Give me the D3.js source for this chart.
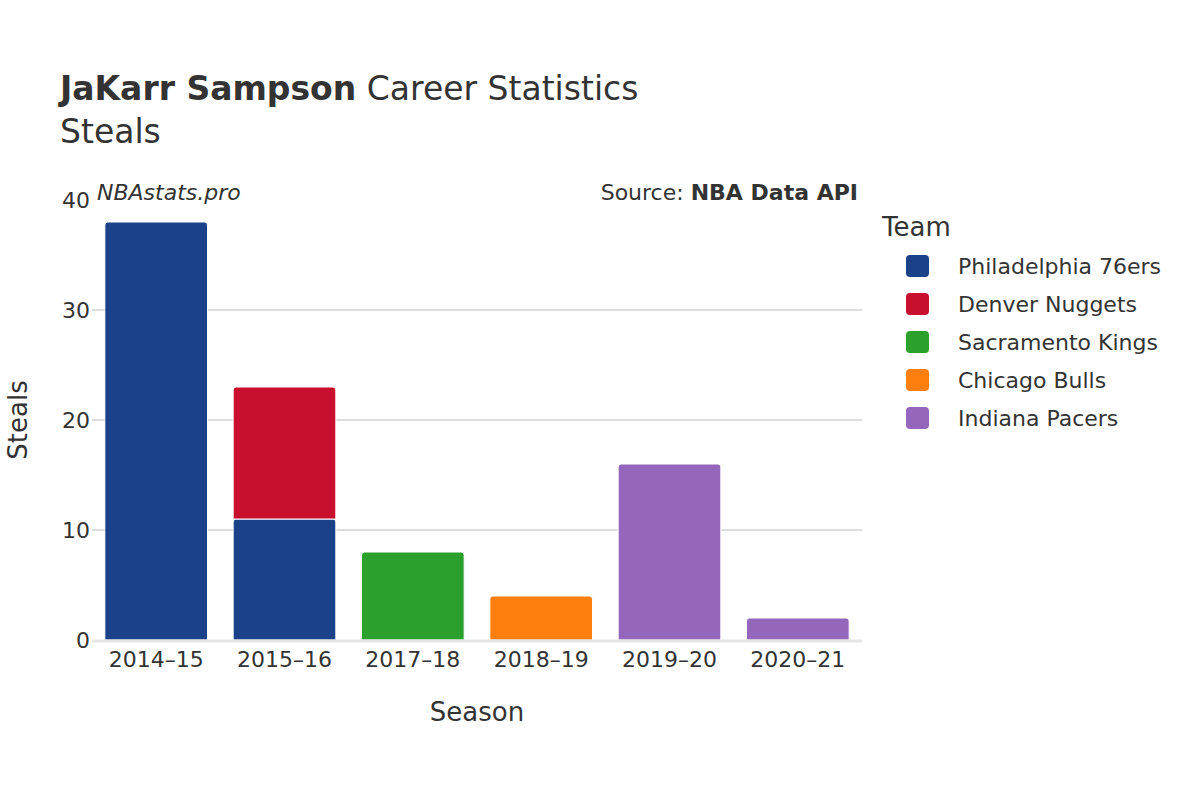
<!DOCTYPE html><html><head><meta charset="utf-8"><script src="https://cdn.jsdelivr.net/npm/d3@7"></script>
<style>body{margin:0;background:#fff}text{font-family:"DejaVu Sans",sans-serif;fill:#333}</style></head><body>
<svg id="c" width="1200" height="800"></svg>
<script>
const seasons=["2014–15","2015–16","2017–18","2018–19","2019–20","2020–21"];
const teams=["Philadelphia 76ers","Denver Nuggets","Sacramento Kings","Chicago Bulls","Indiana Pacers"];
const colors=["#1b4289","#c8102e","#2ca02c","#ff7f0e","#9467bd"];
const segSeason=["2014–15","2015–16","2015–16","2017–18","2018–19","2019–20","2020–21"];
const segTeam=[0,0,1,2,3,4,4];
const segValue=[38,11,12,8,4,16,2];
const yTicks=[0,10,20,30,40];
const svg=d3.select("#c");
const x=d3.scaleBand().domain(seasons).range([92,862]).paddingInner(0.2).paddingOuter(0.1);
const y=d3.scaleLinear().domain([0,40]).range([640,200]);
const g=svg.append("g");
yTicks.filter(t=>t>0&&t<40).forEach(t=>g.append("line").attr("x1",92).attr("x2",862).attr("y1",y(t)).attr("y2",y(t)).attr("stroke","#bbb").attr("stroke-width",1));
const base={};
segValue.forEach((v,i)=>{const s=segSeason[i];const b=base[s]||0;base[s]=b+v;
 const x0=x(s),w=x.bandwidth(),y0=y(b),y1=y(b+v),r=3;
 g.append("path").attr("d",`M${x0},${y0}V${y1+r}Q${x0},${y1} ${x0+r},${y1}H${x0+w-r}Q${x0+w},${y1} ${x0+w},${y1+r}V${y0}Z`).attr("fill",colors[segTeam[i]]).attr("stroke","#fff").attr("stroke-width",1);});
g.append("line").attr("x1",92).attr("x2",862).attr("y1",641).attr("y2",641).attr("stroke","#e6e6e6").attr("stroke-width",3);
yTicks.forEach(t=>g.append("text").attr("x",90).attr("y",y(t)+8).attr("text-anchor","end").attr("font-size",22).text(t));
seasons.forEach(s=>g.append("text").attr("x",x(s)+x.bandwidth()/2).attr("y",667).attr("text-anchor","middle").attr("font-size",22).text(s));
svg.append("text").attr("x",477).attr("y",721).attr("text-anchor","middle").attr("font-size",26).text("Season");
svg.append("text").attr("transform","translate(27,420) rotate(-90)").attr("text-anchor","middle").attr("font-size",26).text("Steals");
const t=svg.append("text").attr("x",60).attr("y",100).attr("font-size",33);
t.append("tspan").attr("font-weight","bold").text("JaKarr Sampson");t.append("tspan").text(" Career Statistics");
svg.append("text").attr("x",60).attr("y",143).attr("font-size",33).text("Steals");
svg.append("text").attr("x",97).attr("y",200).attr("font-size",22).attr("font-style","italic").text("NBAstats.pro");
const s2=svg.append("text").attr("x",858).attr("y",200).attr("text-anchor","end").attr("font-size",22);
s2.append("tspan").text("Source: ");s2.append("tspan").attr("font-weight","bold").text("NBA Data API");
svg.append("text").attr("x",882).attr("y",236).attr("font-size",26).text("Team");
teams.forEach((tm,i)=>{const yy=266+i*38;
 svg.append("rect").attr("x",906).attr("y",yy-11).attr("width",23).attr("height",22).attr("rx",4).attr("fill",colors[i]);
 svg.append("text").attr("x",958).attr("y",yy+8).attr("font-size",22).text(tm);});
</script></body></html>
